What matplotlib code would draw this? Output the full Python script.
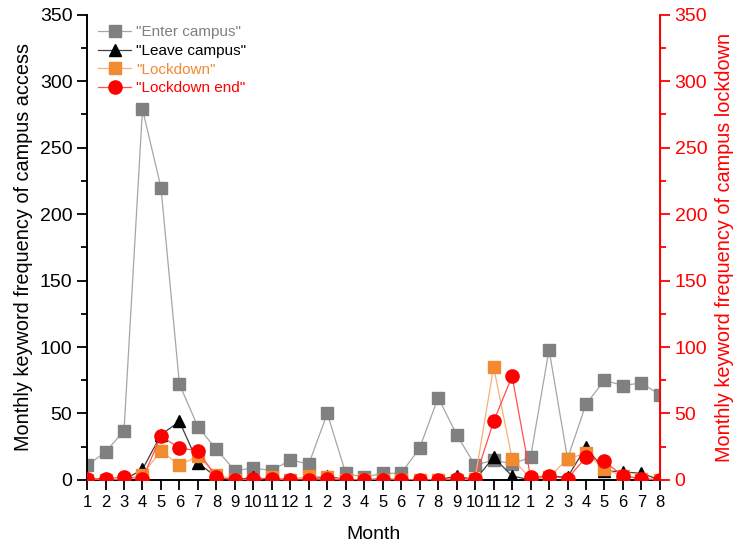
import matplotlib
matplotlib.use("Agg")
import matplotlib.pyplot as plt
from matplotlib.ticker import MultipleLocator

plt.rcParams['font.family'] = ['Liberation Sans', 'DejaVu Sans']

month_labels = [str(m) for m in range(1, 13)] * 2 + [str(m) for m in range(1, 9)]

enter_campus = [11, 21, 37, 279, 220, 72, 40, 23, 7, 9, 7, 15,
                12, 50, 5, 2, 5, 5, 24, 62, 34, 11, 15, 12,
                17, 98, 16, 57, 75, 71, 73, 64]
leave_campus = [0, 0, 0, 8, 34, 44, 13, 2, 0, 2, 0, 1,
                0, 3, 0, 0, 1, 0, 0, 0, 3, 0, 17, 3,
                0, 3, 2, 25, 7, 6, 5, 0]
lockdown = [0, 0, 0, 4, 22, 11, 18, 4, 0, 0, 2, 0,
            3, 2, 0, 0, 0, 0, 0, 0, 0, 1, 85, 16,
            1, 2, 16, 20, 8, 3, 1, 0]
lockdown_end = [1, 1, 2, 1, 33, 24, 22, 2, 0, 1, 1, 0,
                0, 1, 0, 0, 0, 0, 0, 0, 1, 1, 44, 78,
                2, 3, 1, 17, 14, 3, 1, 0]

x = list(range(1, len(month_labels) + 1))

fig = plt.figure(figsize=(7.44, 5.46), dpi=100)
ax = fig.add_axes([0.117, 0.121, 0.770, 0.852])
ax2 = ax.twinx()

l1, = ax.plot(x, enter_campus, '-s', color='#a6a6a6', mfc='#808080', mec='#808080',
              lw=0.9, ms=8.5, label='"Enter campus"')
l2, = ax.plot(x, leave_campus, '-^', color='#404040', mfc='black', mec='black',
              lw=0.9, ms=9, label='"Leave campus"')
l3, = ax2.plot(x, lockdown, '-s', color='#f8b07a', mfc='#f28a30', mec='#f28a30',
               lw=0.9, ms=8.5, label='"Lockdown"')
l4, = ax2.plot(x, lockdown_end, '-o', color='#ff5050', mfc='red', mec='red',
               lw=0.9, ms=9.5, label='"Lockdown end"')

for a in (ax, ax2):
    a.set_ylim(0, 350)
    a.yaxis.set_major_locator(MultipleLocator(50))
    a.yaxis.set_minor_locator(MultipleLocator(25))
    a.spines['top'].set_visible(False)
ax.set_xlim(1, len(x))
ax.set_xticks(x)
ax.set_xticklabels(month_labels)

ax.tick_params(axis='x', direction='out', length=7, width=1.3, labelsize=12)
ax.tick_params(axis='y', which='major', direction='out', length=7, width=1.3, labelsize=14)
ax.tick_params(axis='y', which='minor', direction='out', length=4, width=1.3)
ax2.tick_params(axis='y', which='major', direction='out', length=7, width=1.3,
                labelsize=14, colors='red')
ax2.tick_params(axis='y', which='minor', direction='out', length=4, width=1.3, colors='red')

ax.spines['left'].set_linewidth(1.4)
ax.spines['bottom'].set_linewidth(1.4)
ax2.spines['right'].set_color('red')
ax2.spines['right'].set_linewidth(1.4)
ax2.spines['left'].set_visible(False)
ax2.spines['bottom'].set_visible(False)

ax.set_xlabel('Month', fontsize=14, labelpad=12)
ax.set_ylabel('Monthly keyword frequency of campus access', fontsize=14.3, labelpad=5)
ax2.set_ylabel('Monthly keyword frequency of campus lockdown', fontsize=14.3,
               color='red', labelpad=6)

leg = ax2.legend(handles=[l1, l2, l3, l4], loc='upper left', frameon=False,
                 fontsize=11, handlelength=2.2, handletextpad=0.3,
                 labelspacing=0.3, borderaxespad=0.3, bbox_to_anchor=(0.0, 1.0))
for txt, c in zip(leg.get_texts(), ['#808080', 'black', '#f28a30', 'red']):
    txt.set_color(c)

fig.savefig('out.png', dpi=100)
